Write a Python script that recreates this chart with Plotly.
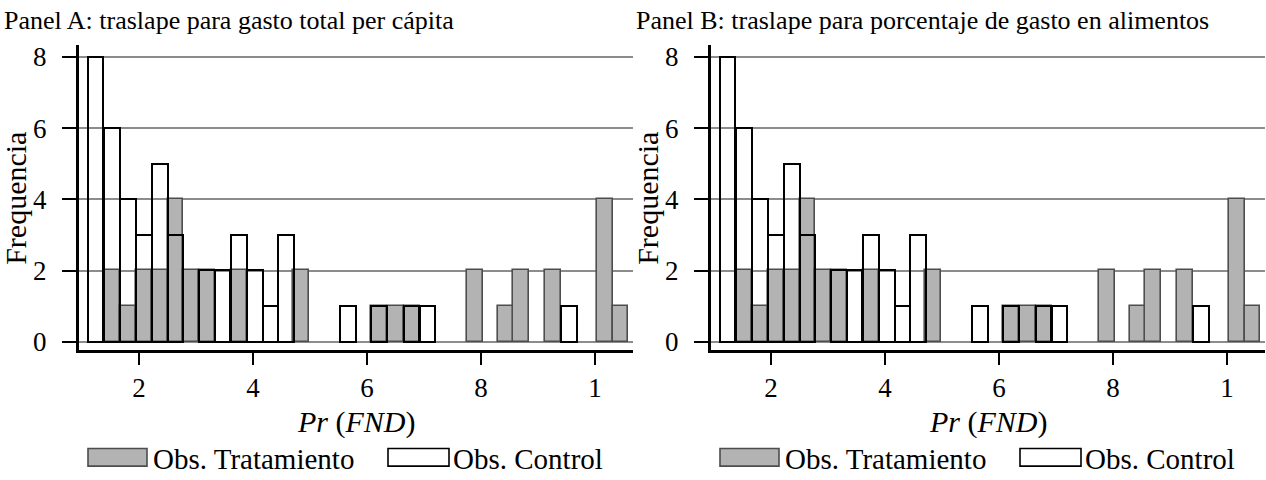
import plotly.graph_objects as go

# ---- data ----
# bin centres of Pr(FND) and frequencies
trat_x = [0.1523, 0.1802, 0.2085, 0.2363, 0.2640, 0.2915, 0.3187, 0.3749, 0.4839,
          0.6214, 0.6507, 0.6784, 0.7889, 0.8435, 0.8707, 0.9261, 1.0170, 1.0447]
trat_y = [2, 1, 2, 2, 4, 2, 2, 2, 2,
          1, 1, 1, 2, 1, 2, 2, 4, 1]
ctrl_x = [0.1237, 0.1523, 0.1802, 0.2085, 0.2363, 0.2640, 0.3187, 0.3465, 0.3749,
          0.4030, 0.4307, 0.4575, 0.5661, 0.6214, 0.6784, 0.7056, 0.9542]
ctrl_y = [8, 6, 4, 3, 5, 3, 2, 2, 3,
          2, 1, 3, 1, 1, 1, 1, 1]
bin_width = 0.0277

x_tickvals = [0.2, 0.4, 0.6, 0.8, 1.0]
x_ticktext = ["2", "4", "6", "8", "1"]
y_tickvals = [0, 2, 4, 6, 8]

titles = ["Panel A: traslape para gasto total per cápita",
          "Panel B: traslape para porcentaje de gasto en alimentos"]
legend_names = ["Obs. Tratamiento", "Obs. Control"]

W, H = 1266, 480
FONT = "Liberation Serif"
GRAY = "#b3b3b3"

fig = go.Figure()

def px(x):
    return x / W

def py(y):
    return 1 - y / H

panels = [("x", "y", 0), ("x2", "y2", 632)]
for i, (xa, ya, off) in enumerate(panels):
    fig.add_trace(go.Bar(x=trat_x, y=trat_y, width=bin_width, xaxis=xa, yaxis=ya,
                         name=legend_names[0], showlegend=False,
                         marker=dict(color=GRAY, line=dict(color="#4d4d4d", width=1.6))))
    fig.add_trace(go.Bar(x=ctrl_x, y=ctrl_y, width=bin_width, xaxis=xa, yaxis=ya,
                         name=legend_names[1], showlegend=False,
                         marker=dict(color="rgba(0,0,0,0)", line=dict(color="black", width=2))))

axis_common_x = dict(range=[0.0947, 1.0667], showline=True, linewidth=3, linecolor="black",
                     ticks="outside", ticklen=12, tickwidth=2, tickcolor="black",
                     tickvals=x_tickvals, ticktext=x_ticktext, showgrid=False, zeroline=False,
                     tickfont=dict(family=FONT, size=27, color="black"), ticklabelstandoff=0)
axis_common_y = dict(range=[-0.22, 8.33], showline=True, linewidth=3, linecolor="black",
                     ticks="outside", ticklen=14, tickwidth=2, tickcolor="black",
                     tickvals=y_tickvals, showgrid=True, gridcolor="#8c8c8c", gridwidth=1.6,
                     zeroline=False, domain=[1 - 354 / H, 1 - 43 / H],
                     tickfont=dict(family=FONT, size=27, color="black"), ticklabelstandoff=10)

fig.update_layout(
    width=W, height=H, margin=dict(l=0, r=0, t=0, b=0),
    paper_bgcolor="white", plot_bgcolor="white", barmode="overlay", bargap=0,
    showlegend=False,
    xaxis=dict(domain=[79 / W, 633 / W], anchor="y", **axis_common_x),
    xaxis2=dict(domain=[711 / W, 1265 / W], anchor="y2", **axis_common_x),
    yaxis=dict(anchor="x", **axis_common_y),
    yaxis2=dict(anchor="x2", **axis_common_y),
)

shapes = []
annotations = []
for i, off in enumerate([0, 632]):
    # panel title
    annotations.append(dict(text=titles[i], xref="paper", yref="paper",
                            x=px(2 + off), y=py(18), xanchor="left", yanchor="middle",
                            showarrow=False, font=dict(family=FONT, size=26, color="black")))
    # y title
    annotations.append(dict(text="Frequencia", xref="paper", yref="paper",
                            x=px(16 + off), y=py(200), xanchor="center", yanchor="middle",
                            textangle=-90, showarrow=False,
                            font=dict(family=FONT, size=30, color="black")))
    # x title
    annotations.append(dict(text="<i>Pr</i> (<i>FND</i>)", xref="paper", yref="paper",
                            x=px(356 + off), y=py(428), xanchor="center", yanchor="middle",
                            showarrow=False, font=dict(family=FONT, size=30, color="black")))
    # legend keys
    shapes.append(dict(type="rect", xref="paper", yref="paper",
                       x0=px(88 + off), x1=px(147 + off), y0=py(473), y1=py(455),
                       fillcolor=GRAY, line=dict(color="#4d4d4d", width=1.6)))
    shapes.append(dict(type="rect", xref="paper", yref="paper",
                       x0=px(388 + off), x1=px(449 + off), y0=py(473), y1=py(455),
                       fillcolor="white", line=dict(color="black", width=1.6)))
    annotations.append(dict(text=legend_names[0], xref="paper", yref="paper",
                            x=px(151 + off), y=py(466), xanchor="left", yanchor="middle",
                            showarrow=False, font=dict(family=FONT, size=29, color="black")))
    annotations.append(dict(text=legend_names[1], xref="paper", yref="paper",
                            x=px(451 + off), y=py(466), xanchor="left", yanchor="middle",
                            showarrow=False, font=dict(family=FONT, size=29, color="black")))

fig.update_layout(shapes=shapes, annotations=annotations)
fig.write_html("out.html", config={"displayModeBar": False},
               post_script="document.body.style.margin='0';document.body.style.overflow='hidden';")
